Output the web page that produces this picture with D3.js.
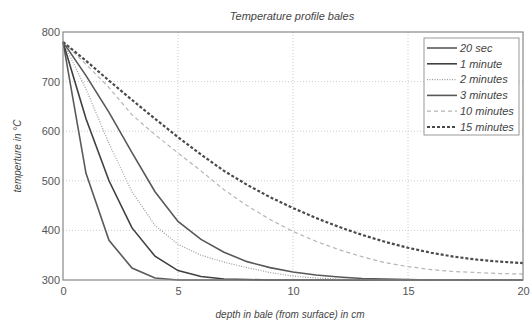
<!DOCTYPE html>
<html lang="en">
  <head>
    <meta charset="UTF-8" />
    <title>Temperature profile bales</title>
    <script src="https://d3js.org/d3.v7.min.js"></script>
    <style>
      body { margin: 0; background: #fff; }
      svg text { font-family: "Liberation Sans", Arial, sans-serif; }
      .tick text { fill: #555; font-size: 11px; }
      .lbl { font-style: italic; fill: #444; font-size: 10px; }
      .grid line { stroke: #ccc; stroke-dasharray: 1,2; }
    </style>
  </head>
  <body>
    <svg width="532" height="321"></svg>
    <script>
      const depth = d3.range(0, 21); // cm
      const names = ["20 sec", "1 minute", "2 minutes", "3 minutes", "10 minutes", "15 minutes"];
      const t20s = [780, 515, 380, 324, 304, 300, 300, 300, 300, 300, 300, 300, 300, 300, 300, 300, 300, 300, 300, 300, 300];
      const t1m = [780, 625, 500, 405, 348, 319, 307, 302, 301, 300, 300, 300, 300, 300, 300, 300, 300, 300, 300, 300, 300];
      const t2m = [780, 685, 575, 478, 410, 372, 350, 336, 325, 315, 308, 304, 302, 301, 300, 300, 300, 300, 300, 300, 300];
      const t3m = [780, 712, 638, 557, 478, 418, 382, 356, 337, 325, 316, 310, 306, 303, 302, 301, 300, 300, 300, 300, 300];
      const t10m = [780, 735, 688, 633, 593, 556, 520, 482, 450, 422, 398, 378, 361, 347, 335, 327, 321, 317, 315, 313, 312];
      const t15m = [780, 742, 702, 663, 625, 588, 553, 520, 492, 467, 445, 425, 407, 391, 377, 365, 355, 347, 341, 337, 334];
      const series = [t20s, t1m, t2m, t3m, t10m, t15m];
      const styles = [
        { color: "#5a5a5a", width: 1.6, dash: null },
        { color: "#404040", width: 1.6, dash: null },
        { color: "#9a9a9a", width: 1.2, dash: "1,1.5" },
        { color: "#585858", width: 1.6, dash: null },
        { color: "#b5b5b5", width: 1.2, dash: "4,3" },
        { color: "#4a4a4a", width: 2.2, dash: "3,2" },
      ];

      const svg = d3.select("svg");
      const m = { left: 63, right: 523, top: 32, bottom: 280 };

      const x = d3.scaleLinear().domain([0, 20]).range([m.left, m.right]);
      const y = d3.scaleLinear().domain([300, 800]).range([m.bottom, m.top]);

      // grid
      svg.append("g").attr("class", "grid")
        .selectAll("line").data([5, 10, 15]).enter().append("line")
        .attr("x1", (d) => x(d)).attr("x2", (d) => x(d))
        .attr("y1", m.top).attr("y2", m.bottom);
      svg.append("g").attr("class", "grid")
        .selectAll("line").data([400, 500, 600, 700]).enter().append("line")
        .attr("y1", (d) => y(d)).attr("y2", (d) => y(d))
        .attr("x1", m.left).attr("x2", m.right);

      // axes
      const xAxis = svg.append("g")
        .attr("transform", `translate(0,${m.bottom})`)
        .call(d3.axisBottom(x).tickValues([0, 5, 10, 15, 20]).tickSize(0).tickPadding(7));
      const yAxis = svg.append("g")
        .attr("transform", `translate(${m.left},0)`)
        .call(d3.axisLeft(y).tickValues([300, 400, 500, 600, 700, 800]).tickSize(0).tickPadding(3));
      xAxis.select(".domain").remove();
      yAxis.select(".domain").remove();

      // curves
      const line = d3.line().x((d, i) => x(depth[i])).y((d) => y(d));
      svg.append("g").selectAll("path").data(series).enter().append("path")
        .attr("d", line)
        .attr("fill", "none")
        .attr("stroke", (d, i) => styles[i].color)
        .attr("stroke-width", (d, i) => styles[i].width)
        .attr("stroke-dasharray", (d, i) => styles[i].dash);

      // frame
      svg.append("rect")
        .attr("x", m.left).attr("y", m.top)
        .attr("width", m.right - m.left).attr("height", m.bottom - m.top)
        .attr("fill", "none").attr("stroke", "#888").attr("stroke-width", 1.2);

      // legend
      const lg = svg.append("g").attr("transform", "translate(424,38)");
      lg.append("rect").attr("width", 95).attr("height", 97)
        .attr("fill", "#fff").attr("stroke", "#999");
      const row = lg.selectAll(".row").data(names).enter().append("g")
        .attr("transform", (d, i) => `translate(0,${10 + i * 15.8})`);
      row.append("line").attr("x1", 3).attr("x2", 33)
        .attr("stroke", (d, i) => styles[i].color)
        .attr("stroke-width", (d, i) => styles[i].width)
        .attr("stroke-dasharray", (d, i) => styles[i].dash);
      row.append("text").attr("class", "lbl").attr("x", 36).attr("dy", "0.35em")
        .style("font-size", "11px").text((d) => d);

      // titles
      svg.append("text").attr("class", "lbl").attr("x", 292).attr("y", 20)
        .attr("text-anchor", "middle").style("font-size", "11px")
        .text("Temperature profile bales");
      svg.append("text").attr("class", "lbl").attr("x", 290).attr("y", 318)
        .attr("text-anchor", "middle").text("depth in bale (from surface) in cm");
      svg.append("text").attr("class", "lbl")
        .attr("transform", "translate(21,156) rotate(-90)")
        .attr("text-anchor", "middle").text("temperture in °C");
    </script>
  </body>
</html>
